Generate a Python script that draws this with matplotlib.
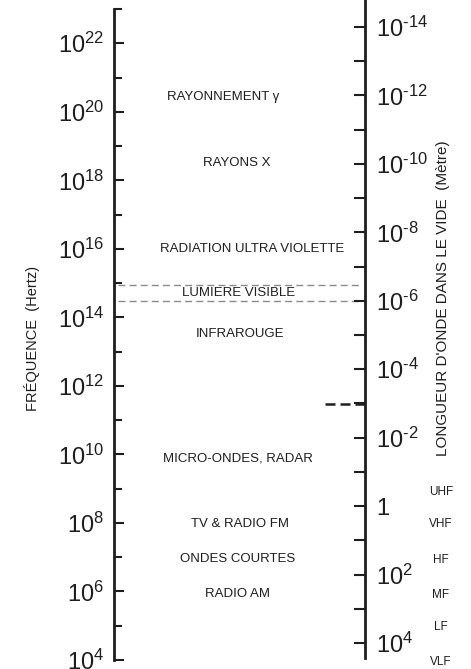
import matplotlib.pyplot as plt
import numpy as np

plt.rcParams['font.family'] = ['Liberation Sans', 'DejaVu Sans']
plt.rcParams['mathtext.fontset'] = 'custom'
plt.rcParams['mathtext.rm'] = 'Liberation Sans'
plt.rcParams['mathtext.default'] = 'regular'

# exponents of the ticks
freq_major = [4, 6, 8, 10, 12, 14, 16, 18, 20, 22]
freq_minor = [5, 7, 9, 11, 13, 15, 17, 19, 21, 23]
wave_major = [-14, -12, -10, -8, -6, -4, -2, 0, 2, 4]
wave_minor = [-13, -11, -9, -7, -5, -3, -1, 1, 3]

# band names, placed at a frequency (Hz)
bands = ['RAYONNEMENT γ', 'RAYONS X', 'RADIATION ULTRA VIOLETTE', 'LUMIERE VISIBLE',
         'INFRAROUGE', 'MICRO-ONDES, RADAR', 'TV & RADIO FM', 'ONDES COURTES', 'RADIO AM']
band_freq = [10**20.43, 10**18.5, 10**16.0, 10**14.71, 10**13.51,
             10**9.89, 10**7.97, 10**6.95, 10**5.92]
band_x = [0.434, 0.490, 0.550, 0.498, 0.502, 0.494, 0.502, 0.494, 0.494]

radio = ['UHF', 'VHF', 'HF', 'MF', 'LF', 'VLF']
radio_freq = [10**8.90, 10**7.97, 10**6.92, 10**5.90, 10**4.96, 10**3.94]

visible_edges = [8.7e14, 3.0e14]
ir_micro_edge = 3.0e11

ink = '#1e1e1e'


def sci(e):
    if e == 0:
        return '1'
    s = str(e).replace('-', '\u2010')
    return f'$10^{{{s}}}$'


fig = plt.figure(figsize=(4.71, 6.69), dpi=100)

# left axis: frequency
ax = fig.add_axes([114/471, 9/669, 251/471, 651/669])
ax.set_facecolor('none')
ax.set_yscale('log')
ax.set_ylim(1e4, 1e23)
ax.set_xlim(0, 1)
for s in ['top', 'right', 'bottom']:
    ax.spines[s].set_visible(False)
ax.spines['left'].set_linewidth(2)
ax.spines['left'].set_color(ink)
ax.set_xticks([])
ax.set_yticks([10.0**e for e in freq_major], [sci(e) for e in freq_major])
ax.set_yticks([10.0**e for e in freq_minor], minor=True)
ax.yaxis.set_minor_formatter(plt.NullFormatter())
ax.tick_params(axis='y', which='major', direction='in', length=7, width=1.5,
               color=ink, labelsize=17, pad=7, labelcolor=ink)
ax.tick_params(axis='y', which='minor', direction='in', length=6, width=1.5, color=ink)

for name, f, x in zip(bands, band_freq, band_x):
    ax.text(x, f, name, ha='center', va='center', fontsize=9.5, color=ink)

for f in visible_edges:
    ax.plot([0.016, 0.985], [f, f], color='#8a8a8a', lw=1, ls=(0, (5, 3)), zorder=0)
ax.plot([0.84, 1.0], [ir_micro_edge, ir_micro_edge], color=ink, lw=1.8, ls=(0, (4, 2)))

# right axis: wavelength
ax2 = fig.add_axes([114/471, 11/669, 251/471, 658/669])
ax2.set_facecolor('none')
ax2.set_yscale('log')
ax2.set_ylim(10**4.438, 10**-14.788)
for s in ['top', 'left', 'bottom']:
    ax2.spines[s].set_visible(False)
ax2.spines['right'].set_linewidth(2)
ax2.spines['right'].set_color(ink)
ax2.set_xticks([])
ax2.yaxis.tick_right()
ax2.set_yticks([10.0**e for e in wave_major], [sci(e) for e in wave_major])
ax2.set_yticks([10.0**e for e in wave_minor], minor=True)
ax2.yaxis.set_minor_formatter(plt.NullFormatter())
ax2.tick_params(axis='y', which='major', direction='in', length=8, width=1.5,
                color=ink, labelsize=17, pad=8, labelcolor=ink)
ax2.tick_params(axis='y', which='minor', direction='in', length=8, width=1.5, color=ink)

radio_tr = ax.get_yaxis_transform().__class__(fig.transFigure, ax.transData)
for name, f in zip(radio, radio_freq):
    ax.text(441/471, f, name, transform=radio_tr,
            ha='center', va='center', fontsize=8.5, color=ink, clip_on=False)

fig.text(32/471, 1 - 338/669, 'FRÉQUENCE  (Hertz)', rotation=90, ha='center', va='center',
         fontsize=10.5, color=ink)
fig.text(443/471, 1 - 298/669, "LONGUEUR D'ONDE DANS LE VIDE  (Mètre)", rotation=90,
         ha='center', va='center', fontsize=11, color=ink)

fig.savefig('out.png', dpi=100, facecolor='white')
